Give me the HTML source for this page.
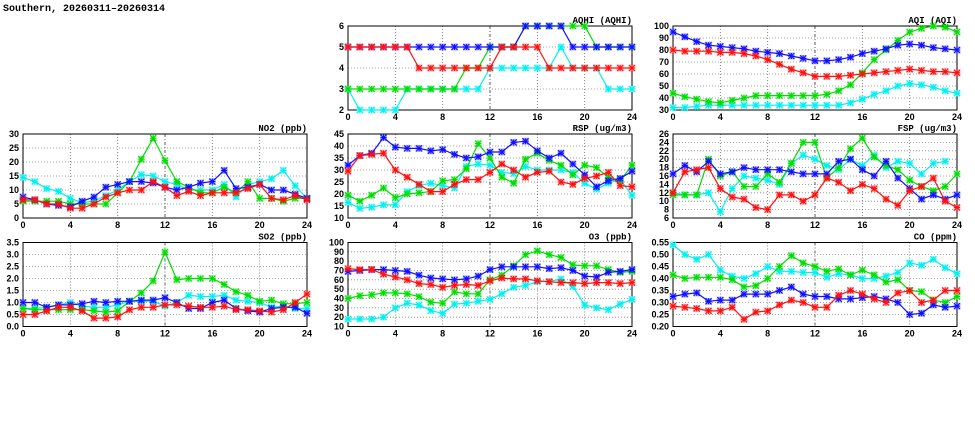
<!DOCTYPE html>
<html><head><meta charset="utf-8"><style>
html,body{margin:0;padding:0;background:#fff;}
svg{display:block;font-family:"Liberation Sans",sans-serif;font-weight:bold;}
</style></head><body>
<svg id="c" width="975" height="447" viewBox="0 0 975 447">
<text x="3" y="11" font-size="10" font-family="Liberation Mono, monospace">Southern, 20260311–20260314</text>
</svg>
<script>
const hours=[0,1,2,3,4,5,6,7,8,9,10,11,12,13,14,15,16,17,18,19,20,21,22,23,24];
const seriesNames=["cyan","green","blue","red"];
const colors={cyan:"#00f0f0",green:"#00dd00",blue:"#1010ff",red:"#ff1010"};

const aqhiCyan=[3,2,2,2,2,3,3,3,3,3,3,3,4,4,4,4,4,4,5,4,4,4,3,3,3];
const aqhiGreen=[3,3,3,3,3,3,3,3,3,3,4,4,5,5,5,6,6,6,6,6,6,5,5,5,5];
const aqhiBlue=[5,5,5,5,5,5,5,5,5,5,5,5,5,5,5,6,6,6,6,5,5,5,5,5,5];
const aqhiRed=[5,5,5,5,5,5,4,4,4,4,4,4,4,5,5,5,5,4,4,4,4,4,4,4,4];

const aqiCyan=[32,32,33,34,34,34,34,34,34,34,34,34,34,34,34,36,39,43,46,50,52,51,49,46,44];
const aqiGreen=[44,41,39,37,36,38,40,42,42,42,42,42,42,43,46,51,61,72,80,88,95,98,100,99,95];
const aqiBlue=[95,91,87,84,83,82,81,79,78,77,75,73,71,71,72,74,77,79,81,84,85,84,82,81,80];
const aqiRed=[80,79,79,79,78,78,77,75,72,68,64,61,58,58,58,59,60,61,62,63,64,63,62,62,61];

const no2Cyan=[14.5,13,10.5,9.5,7,5.5,6,8,10,13,15.5,15,13,12,10,10,10,12,7.5,12,13,14,17,11.5,7];
const no2Green=[6,6,6,6,5,5,5,5,9,13,21,28.5,20.5,13,11,9,9,11,9,13,7,7,6,7,7];
const no2Blue=[7.5,6.5,5,4.5,4,6,7.5,11,12,13,13,12.5,11,10,11,12.5,13,17,10.5,11,12,10,10,8.5,7];
const no2Red=[6.5,6.5,5,5,3.5,3.5,5,7.5,9,10,10,13,11,8,9.5,8,9,9,9,10.5,12,7,6.5,8,6.5];

const rspCyan=[16.5,14,14.5,15.5,15.5,21,23.5,24.5,23.5,22.5,31.5,32.5,32,29,28.5,31.5,30,30,30,29,24.5,22,24.5,26,19.5];
const rspGreen=[19.5,17,19.5,22.5,18.5,20,20.5,21,25.5,26,30.5,41,35,27,24.5,34.5,37,34,32,28,32,31,27,25.5,32];
const rspBlue=[32,36,37,43.5,39.5,39,39,38,38.5,36.5,35,35.5,37.5,37.5,41.5,42,38,35,37,32.5,28,23,25.5,26.5,29.5];
const rspRed=[29.5,36,36.5,37,30,27,24,21,21,24,26,26,29,32.5,30,27,29,29.5,25,24,26.5,27.5,29,23.5,23];

const fspCyan=[12,11.5,11.5,12,7.5,13,16,15.5,15,14,19,21,20,18.5,17.5,20,18.5,21,18,19.5,19,16.5,19,19.5,null];
const fspGreen=[11.5,11.5,11.5,20,16,17,13.5,13.5,16.5,14.5,19,24,24,15.5,18,22.5,25,20.5,18.5,17.5,15,13.5,12.5,13.5,16.5];
const fspBlue=[16.5,18.5,17,19.5,16.5,17,18,17.5,17.5,17.5,17,16.5,16.5,16.5,19.5,20,17.5,16,19.5,15.5,13,10.5,11.5,10.5,11.5];
const fspRed=[12,17,17.5,18,13,11,10.5,8.5,8,11.5,11.5,10,11.5,15.5,14.5,12.5,14,13,10.5,9,12.5,13.5,15.5,10,8.5];

const so2Cyan=[0.75,0.75,0.8,0.9,1.0,0.85,0.8,0.8,0.9,1.05,1.05,1.05,0.85,1.0,1.3,1.25,1.25,1.3,1.1,1.05,1.0,0.8,0.85,0.75,0.75];
const so2Green=[0.75,0.7,0.7,0.7,0.7,0.7,0.65,0.6,0.65,1.05,1.4,1.9,3.1,1.95,2.0,2.0,2.0,1.75,1.45,1.3,1.05,1.1,0.95,0.95,1.0];
const so2Blue=[1.0,1.0,0.8,0.9,0.9,0.95,1.05,1.0,1.05,1.05,1.1,1.1,1.2,1.0,0.75,0.75,1.0,1.1,0.75,0.65,0.6,0.75,0.8,0.8,0.55];
const so2Red=[0.5,0.5,0.65,0.8,0.8,0.65,0.35,0.35,0.4,0.7,0.8,0.8,0.9,0.9,0.85,0.8,0.8,0.85,0.7,0.7,0.65,0.6,0.7,1.0,1.35];

const o3Cyan=[18,18,18,20,30,35,33,27,24,34,35,37,39,45,52,54,58,58,61,53,33,30,28,34,39];
const o3Green=[40,43,44,46,46,45,42,36,35,47,45,45,60,65,75,87,91,87,84,76,75,75,71,68,69];
const o3Blue=[69,70,71,71,70,69,65,62,61,60,61,64,71,74,74,74,74,72,73,70,64,63,68,69,71];
const o3Red=[72,71,71,66,63,60,56,55,52,54,55,54,59,62,61,61,59,58,57,57,56,57,57,56,57];

const coCyan=[.54,.50,.48,.50,.435,.41,.40,.42,.45,.43,.43,.425,.425,.405,.42,.415,.40,.40,.41,.425,.465,.455,.48,.445,.42];
const coGreen=[.415,.40,.405,.405,.405,.395,.365,.37,.40,.45,.495,.465,.45,.43,.44,.415,.435,.415,.385,.395,.35,.345,.31,.30,.325];
const coBlue=[.325,.335,.34,.305,.31,.31,.335,.335,.335,.35,.365,.335,.325,.325,.315,.315,.32,.325,.315,.30,.25,.255,.29,.28,.285];
const coRed=[.285,.28,.275,.265,.265,.28,.23,.26,.265,.29,.31,.30,.28,.28,.33,.35,.335,.315,.30,.34,.35,.30,.31,.35,.35];

const xTicks=[0,4,8,12,16,20,24];
const aqhiTicks=[2,3,4,5,6];
const aqiTicks=[30,40,50,60,70,80,90,100];
const no2Ticks=[0,5,10,15,20,25,30];
const rspTicks=[10,15,20,25,30,35,40,45];
const fspTicks=[6,8,10,12,14,16,18,20,22,24,26];
const so2Ticks=[0,0.5,1,1.5,2,2.5,3,3.5];
const o3Ticks=[10,20,30,40,50,60,70,80,90,100];
const coTicks=[0.2,0.25,0.3,0.35,0.4,0.45,0.5,0.55];

const panels=[
 {name:"aqhi",title:"AQHI (AQHI)",col:1,row:0,ticks:aqhiTicks,dec:0,data:[aqhiCyan,aqhiGreen,aqhiBlue,aqhiRed]},
 {name:"aqi",title:"AQI (AQI)",col:2,row:0,ticks:aqiTicks,dec:0,data:[aqiCyan,aqiGreen,aqiBlue,aqiRed]},
 {name:"no2",title:"NO2 (ppb)",col:0,row:1,ticks:no2Ticks,dec:0,data:[no2Cyan,no2Green,no2Blue,no2Red]},
 {name:"rsp",title:"RSP (ug/m3)",col:1,row:1,ticks:rspTicks,dec:0,data:[rspCyan,rspGreen,rspBlue,rspRed]},
 {name:"fsp",title:"FSP (ug/m3)",col:2,row:1,ticks:fspTicks,dec:0,data:[fspCyan,fspGreen,fspBlue,fspRed]},
 {name:"so2",title:"SO2 (ppb)",col:0,row:2,ticks:so2Ticks,dec:1,data:[so2Cyan,so2Green,so2Blue,so2Red]},
 {name:"o3",title:"O3 (ppb)",col:1,row:2,ticks:o3Ticks,dec:0,data:[o3Cyan,o3Green,o3Blue,o3Red]},
 {name:"co",title:"CO (ppm)",col:2,row:2,ticks:coTicks,dec:2,data:[coCyan,coGreen,coBlue,coRed]}
];
const colX=[23,348,673], rowY=[26,134,242.5], W=284, H=84;
const svg=document.getElementById('c');
const NS="http://www.w3.org/2000/svg";
function mk(tag,attrs,parent){const e=document.createElementNS(NS,tag);for(const k in attrs)e.setAttribute(k,attrs[k]);(parent||svg).appendChild(e);return e;}

panels.forEach(p=>{
  const x0=colX[p.col], y0=rowY[p.row];
  const g=mk('g',{});
  
  
  const ymin=p.ticks[0], ymax=p.ticks[p.ticks.length-1];
  const sx=v=>x0+(v-0)/24*W;
  const sy=v=>y0+H-(v-ymin)/(ymax-ymin)*H;
  p.ticks.forEach(t=>{
    const y=sy(t);
    if(t!==ymin&&t!==ymax){const l=mk('line',{x1:x0,x2:x0+W,y1:y,y2:y,stroke:"#888","stroke-width":0.8,"stroke-dasharray":"1,2"},g);
      }
    const tx=mk('text',{x:x0-4,y:y+3,"font-size":9,"text-anchor":"end"},g);
    tx.textContent=t.toFixed(p.dec);
    
    
  });
  xTicks.forEach(t=>{
    const x=sx(t);
    if(t!==0&&t!==24){const l=mk('line',{x1:x,x2:x,y1:y0,y2:y0+H,stroke:t===12?"#333":"#666","stroke-width":0.8,"stroke-dasharray":t===12?"3,2,1,2":"1,2"},g);
      }
    const tx=mk('text',{x:x,y:y0+H+10,"font-size":9,"text-anchor":"middle"},g);
    tx.textContent=t;
    
    
  });
  const fr=mk('rect',{x:x0,y:y0,width:W,height:H,fill:"none",stroke:"#000","stroke-width":1},g);
  
  
  const tt=mk('text',{x:x0+W,y:y0-3,"font-size":9,"text-anchor":"end","font-family":"Liberation Mono, monospace"},g);
  tt.textContent=p.title;
  
  
  p.data.forEach((arr,si)=>{
    const c=colors[seriesNames[si]];
    const sg=mk('g',{},g);
    
    
    let d="";let pen=false;
    arr.forEach((v,i)=>{if(v===null){pen=false;return;}d+=(pen?"L":"M")+sx(hours[i]).toFixed(1)+","+sy(v).toFixed(1);pen=true;});
    const pl=mk('path',{d:d,fill:"none",stroke:c,"stroke-width":1.2},sg);
    
    
    arr.forEach((v,i)=>{
      if(v===null)return;
      const x=sx(hours[i]),y=sy(v),r=3;
      const h=mk('rect',{x:x-3.5,y:y-3.5,width:7,height:7,fill:c,"fill-opacity":0.3,stroke:"none"},sg);
      
      
      const m=mk('path',{d:`M${x-r},${y-r}L${x+r},${y+r}M${x-r},${y+r}L${x+r},${y-r}M${x},${y-r}L${x},${y+r}M${x-r},${y}L${x+r},${y}`,stroke:c,"stroke-width":1.1,fill:"none"},sg);
      
      
    });
  });
});
</script>
</body></html>
